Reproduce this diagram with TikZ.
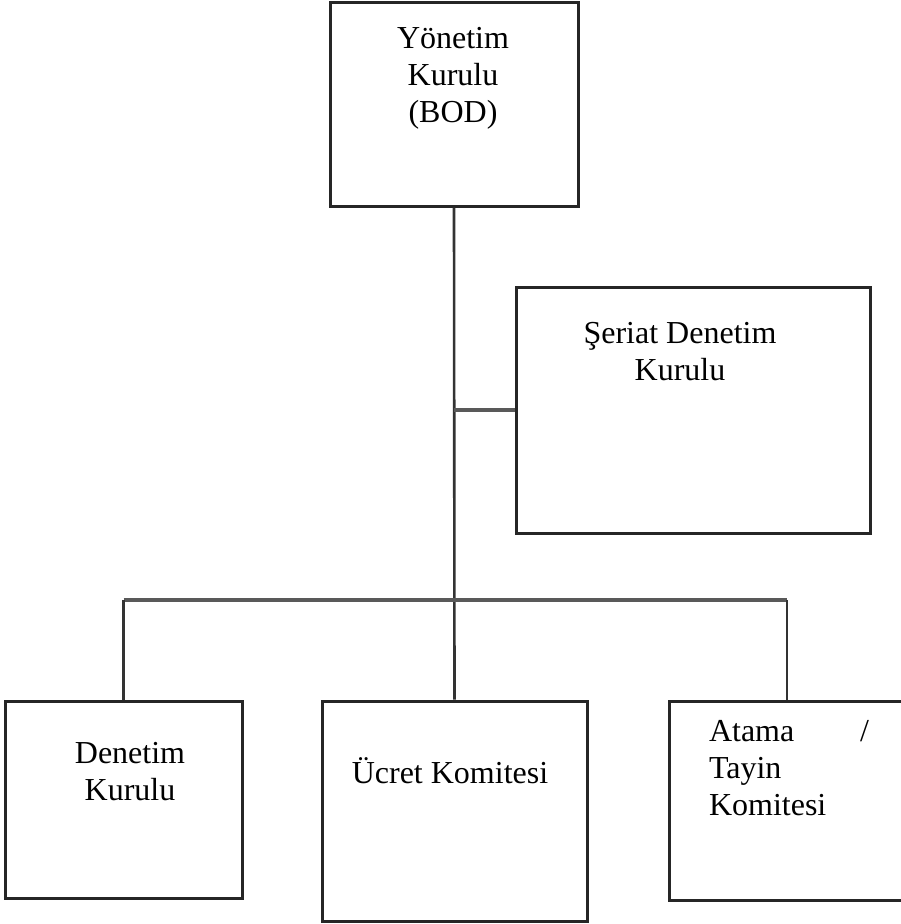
\documentclass[tikz,border=0pt]{standalone}
\usepackage{fontspec}
\setmainfont{Liberation Serif}
\begin{document}
\begin{tikzpicture}[x=1pt,y=-1pt,
  box/.style={draw=black!85,line width=3pt,fill=white,inner sep=0pt},
  txt/.style={inner sep=0pt,font=\fontsize{32}{37}\selectfont,align=center,text=black},
  trunk/.style={draw=black!80,line width=2.6pt},
  branch/.style={draw=black!65,line width=4pt}]
\useasboundingbox (0,0) rectangle (900,924);
\fill[white] (0,0) rectangle (900,924);
% boxes
\node[box,minimum width=248pt,minimum height=204pt] (bod) at (454,104) {};
\node[box,minimum width=354pt,minimum height=246pt] (seriat) at (693,410) {};
\node[box,minimum width=237pt,minimum height=197pt] (denetim) at (123.5,799.5) {};
\node[box,minimum width=265pt,minimum height=220pt] (ucret) at (454.5,811) {};
\node[box,minimum width=236pt,minimum height=199pt] (atama) at (787,800.5) {};
% connectors
\coordinate (j1) at (bod.south |- seriat.west);
\coordinate (bar) at (454,600);
\draw[trunk] (bod.south) -- (ucret.north);
\draw[branch] (j1) -- (seriat.west);
\draw[branch] (denetim.north |- bar) -- (atama.north |- bar);
\draw[trunk] (denetim.north |- bar) -- (denetim.north);
\draw[trunk] (atama.north |- bar) -- (atama.north);
% texts
\node[txt] (tbod) at (453,78) {Yönetim\\Kurulu\\(BOD)};
\node[txt] (tseriat) at (680,352) {Şeriat Denetim\\Kurulu};
\node[txt] (tdenetim) at (130,772) {Denetim\\Kurulu};
\node[txt,anchor=base] (tucret) at (450,783) {Ücret Komitesi};
\node[txt,align=left,text width=160pt] (tatama) at (789,768) {Atama\hfill/\\Tayin\\Komitesi};
\end{tikzpicture}
\end{document}
